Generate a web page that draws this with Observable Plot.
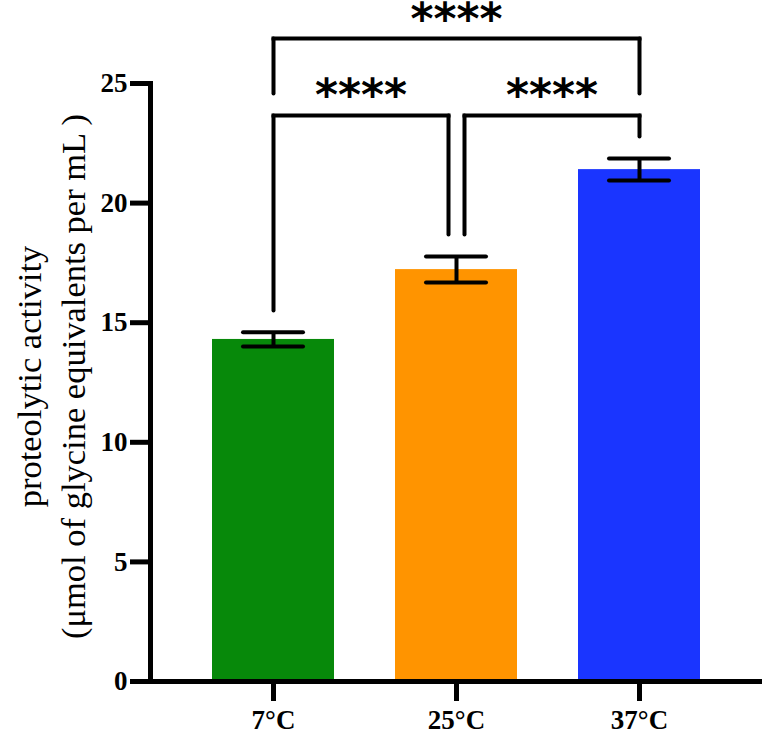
<!DOCTYPE html>
<html>
<head>
<meta charset="utf-8">
<script src="https://cdn.jsdelivr.net/npm/d3@7"></script>
<script src="https://cdn.jsdelivr.net/npm/@observablehq/plot@0.6"></script>
<style>
  body { margin: 0; background: #fff; }
  #chart svg { display: block; }
</style>
</head>
<body>
<div id="chart"></div>
<script>
// ---- data ----
const categories = ["7°C", "25°C", "37°C"];
const means   = [14.30, 17.22, 21.40];
const errLow  = [14.00, 16.68, 20.94];
const errHigh = [14.60, 17.77, 21.86];
const barColors = ["#07890a", "#ff9400", "#1a35ff"];
const yTicks = [0, 5, 10, 15, 20, 25];

// significance brackets
const bracketFrom    = ["7°C", "7°C", "25°C"];
const bracketTo      = ["37°C", "25°C", "37°C"];
const bracketTop     = [26.88, 23.66, 23.66];
const bracketFromEnd = [24.58, 15.51, 18.69];
const bracketToEnd   = [24.58, 18.69, 22.78];
const bracketLabel   = ["****", "****", "****"];
const bracketLabelY  = [27.66, 24.50, 24.50];

const yLabel = "proteolytic activity\n(μmol of glycine equivalents per mL )";

// ---- tables built from the arrays ----
const bars = categories.map((c, i) => ({cat: c, mean: means[i], lo: errLow[i], hi: errHigh[i], color: barColors[i]}));
const brackets = bracketFrom.map((f, i) => ({
  from: f, to: bracketTo[i], top: bracketTop[i],
  fromEnd: bracketFromEnd[i], toEnd: bracketToEnd[i],
  label: bracketLabel[i], labelY: bracketLabelY[i]
}));

const serif = "'Liberation Serif', 'Times New Roman', Times, serif";
const legGap = 8;   // px separation of two bracket legs meeting at the same bar
const lineW = 4;

const common = {
  width: 765, height: 733,
  marginLeft: 150, marginRight: 3, marginTop: 83, marginBottom: 52,
  style: {fontFamily: serif, background: "#fff", color: "#000", overflow: "visible"},
  x: {type: "band", domain: categories, paddingInner: 0.335, paddingOuter: 0.335, align: 0.5, axis: null},
  y: {domain: [0, 25], axis: null},
  color: {type: "identity"}
};

// probe plot to read the x scale
const probe = Plot.plot({...common, marks: [Plot.barY(bars, {x: "cat", y: "mean"})]});
const xs = probe.scale("x");

const bracketMarks = brackets.flatMap((b) => {
  const fromShift = bracketTo.includes(b.from) ? legGap : 0;
  const toShift = bracketFrom.includes(b.to) ? -legGap : 0;
  const mid = (xs.apply(b.to) + toShift - xs.apply(b.from) - fromShift) / 2 + fromShift;
  return [
    Plot.link([b], {x1: "from", x2: "from", y1: "fromEnd", y2: "top", dx: fromShift,
      strokeWidth: lineW, strokeLinecap: "round"}),
    Plot.link([b], {x1: "to", x2: "to", y1: "toEnd", y2: "top", dx: toShift,
      strokeWidth: lineW, strokeLinecap: "round"}),
    Plot.arrow([b], {x1: "from", x2: "to", y1: "top", y2: "top", headLength: 0,
      insetStart: fromShift, insetEnd: -toShift, strokeWidth: lineW, strokeLinecap: "square"}),
    Plot.text([b], {x: "from", y: "labelY", text: "label", dx: mid,
      fontFamily: "'DejaVu Sans', sans-serif", fontWeight: "bold", fontSize: 44})
  ];
});

const chart = Plot.plot({
  ...common,
  marks: [
    Plot.barY(bars, {x: "cat", y: "mean", fill: "color"}),
    Plot.ruleX(bars, {x: "cat", y1: "lo", y2: "hi", strokeWidth: lineW}),
    Plot.tickY(bars, {x: "cat", y: "lo", strokeWidth: lineW, insetLeft: 31, insetRight: 31, strokeLinecap: "round"}),
    Plot.tickY(bars, {x: "cat", y: "hi", strokeWidth: lineW, insetLeft: 31, insetRight: 31, strokeLinecap: "round"}),
    ...bracketMarks,
    Plot.frame({anchor: "left", strokeWidth: 5}),
    Plot.ruleY([0], {strokeWidth: 5}),
    Plot.axisY({ticks: yTicks, tickSize: 20, strokeWidth: 5, tickPadding: 3,
      fontSize: 27, fontWeight: "bold", label: null}),
    Plot.axisX({tickSize: 20, strokeWidth: 5, tickPadding: 8,
      fontSize: 27, fontWeight: "bold", label: null}),
    Plot.text([yLabel], {frameAnchor: "left", textAnchor: "middle", text: (d) => d, rotate: -90,
      dx: -102, dy: -6, fontSize: 34.5, lineHeight: 1.28, fontFamily: serif})
  ]
});

document.getElementById("chart").append(chart);
</script>
</body>
</html>
